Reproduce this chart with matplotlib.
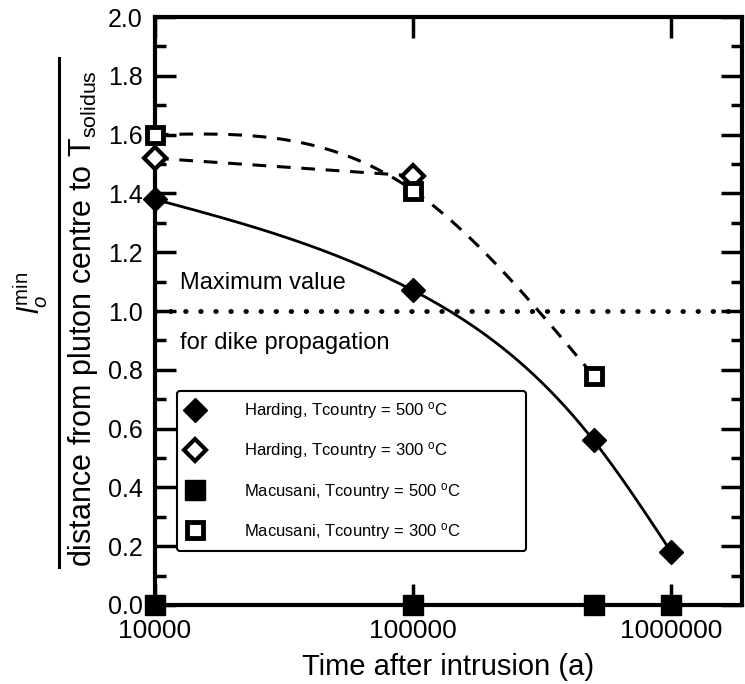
import numpy as np
import matplotlib
matplotlib.use('Agg')
import matplotlib.pyplot as plt
from matplotlib.lines import Line2D
from matplotlib.ticker import FixedLocator, NullLocator, MultipleLocator, FormatStrFormatter

plt.rcParams['font.family'] = ['Liberation Sans', 'DejaVu Sans']
plt.rcParams['mathtext.fontset'] = 'custom'
plt.rcParams['mathtext.rm'] = 'Liberation Sans'
plt.rcParams['mathtext.it'] = 'Liberation Sans:italic'

# values
t_harding_500 = [1e4, 1e5, 5e5, 1e6]
r_harding_500 = [1.38, 1.07, 0.56, 0.18]
t_harding_300 = [1e4, 1e5]
r_harding_300 = [1.52, 1.46]
t_macusani_500 = [1e4, 1e5, 5e5, 1e6]
r_macusani_500 = [0.0, 0.0, 0.0, 0.0]
t_macusani_300 = [1e4, 1e5, 5e5]
r_macusani_300 = [1.60, 1.41, 0.78]

x_ticks = [1e4, 1e5, 1e6]
x_tick_labels = ['10000', '100000', '1000000']
max_value = 1.0

labels = ['Harding, Tcountry = 500 $^{\\mathregular{o}}$C',
          'Harding, Tcountry = 300 $^{\\mathregular{o}}$C',
          'Macusani, Tcountry = 500 $^{\\mathregular{o}}$C',
          'Macusani, Tcountry = 300 $^{\\mathregular{o}}$C']


def smooth(t, r, n=200):
    # natural cubic spline through the points, in log time
    x = np.log10(t)
    y = np.asarray(r, float)
    k = len(x)
    h = np.diff(x)
    A = np.zeros((k, k))
    b = np.zeros(k)
    A[0, 0] = A[-1, -1] = 1
    for i in range(1, k - 1):
        A[i, i - 1] = h[i - 1]
        A[i, i] = 2 * (h[i - 1] + h[i])
        A[i, i + 1] = h[i]
        b[i] = 6 * ((y[i + 1] - y[i]) / h[i] - (y[i] - y[i - 1]) / h[i - 1])
    M = np.linalg.solve(A, b)
    xs = np.linspace(x[0], x[-1], n)
    idx = np.clip(np.searchsorted(x, xs) - 1, 0, k - 2)
    x0, x1 = x[idx], x[idx + 1]
    hh = x1 - x0
    ys = (M[idx] * (x1 - xs) ** 3 / (6 * hh) + M[idx + 1] * (xs - x0) ** 3 / (6 * hh)
          + (y[idx] / hh - M[idx] * hh / 6) * (x1 - xs)
          + (y[idx + 1] / hh - M[idx + 1] * hh / 6) * (xs - x0))
    return 10 ** xs, ys


fig = plt.figure(figsize=(7.45, 6.84), dpi=100)
ax = fig.add_axes([0.208, 0.1155, 0.788, 0.8595])

ax.set_xscale('log')
ax.set_xlim(1e4, 1.88e6)
ax.set_ylim(0, 2.0)

# curves
xs, ys = smooth(t_harding_500, r_harding_500)
ax.plot(xs, ys, color='black', lw=2.0, zorder=3)
ax.plot(t_harding_300, r_harding_300, color='black', lw=2.2, ls=(0, (4.5, 3.5)), zorder=3)
xs, ys = smooth(t_macusani_300, r_macusani_300)
ax.plot(xs, ys, color='black', lw=2.2, ls=(0, (4.5, 3.5)), zorder=3)

ax.axhline(max_value, color='black', lw=3.5, ls=(0, (0.1, 3.0)),
           dash_capstyle='round', zorder=2)

# markers
ax.plot(t_harding_500, r_harding_500, 'D', color='black', ms=12,
        ls='none', label=labels[0], zorder=5, clip_on=False)
ax.plot(t_harding_300, r_harding_300, 'D', mfc='white', mec='black', mew=3,
        ms=11, ls='none', label=labels[1], zorder=5, clip_on=False)
ax.plot(t_macusani_500, r_macusani_500, 's', color='black', ms=14,
        ls='none', label=labels[2], zorder=6, clip_on=False)
ax.plot(t_macusani_300, r_macusani_300, 's', mfc='white', mec='black', mew=3.5,
        ms=12, ls='none', label=labels[3], zorder=5, clip_on=False)

ax.text(0.042, 1.095, 'Maximum value', transform=ax.get_yaxis_transform(),
        fontsize=17, va='center', ha='left')
ax.text(0.042, 0.89, 'for dike propagation', transform=ax.get_yaxis_transform(),
        fontsize=17, va='center', ha='left')

leg = ax.legend(loc='lower left', bbox_to_anchor=(0.037, 0.092, 0.595, 0.27),
                mode='expand', borderaxespad=0, fontsize=12, frameon=True,
                fancybox=True, edgecolor='black', framealpha=1,
                handlelength=1.1, handletextpad=2.4, labelspacing=1.15,
                borderpad=0.55, markerscale=1.0)
leg.get_frame().set_linewidth(1.5)
leg.set_zorder(7)

# axes styling
for s in ax.spines.values():
    s.set_linewidth(3)
ax.xaxis.set_major_locator(FixedLocator(x_ticks))
ax.xaxis.set_minor_locator(NullLocator())
ax.set_xticklabels(x_tick_labels)
ax.yaxis.set_major_locator(MultipleLocator(0.2))
ax.yaxis.set_minor_locator(MultipleLocator(0.1))
ax.yaxis.set_major_formatter(FormatStrFormatter('%.1f'))
ax.tick_params(which='both', direction='in', top=True, right=True, width=2.5)
ax.tick_params(which='major', length=15)
ax.tick_params(which='minor', length=8)
ax.tick_params(axis='y', labelsize=18, pad=9)
ax.tick_params(axis='x', labelsize=19, pad=10)

ax.set_xlabel('Time after intrusion (a)', fontsize=21, labelpad=7)

# y label drawn as a fraction
fig.text(0.111, 0.171, 'distance from pluton centre to T$\\mathregular{_{solidus}}$',
         rotation=90, ha='center', va='bottom', fontsize=22)
fig.add_artist(Line2D([0.079, 0.079], [0.171, 0.915], color='black', lw=2.2,
                      transform=fig.transFigure))
fig.text(0.041, 0.572, '$\\mathit{l}^{\\mathregular{min}}_{\\mathit{o}}$',
         rotation=90, ha='center', va='center', fontsize=21)

fig.savefig('out.png', dpi=100)
